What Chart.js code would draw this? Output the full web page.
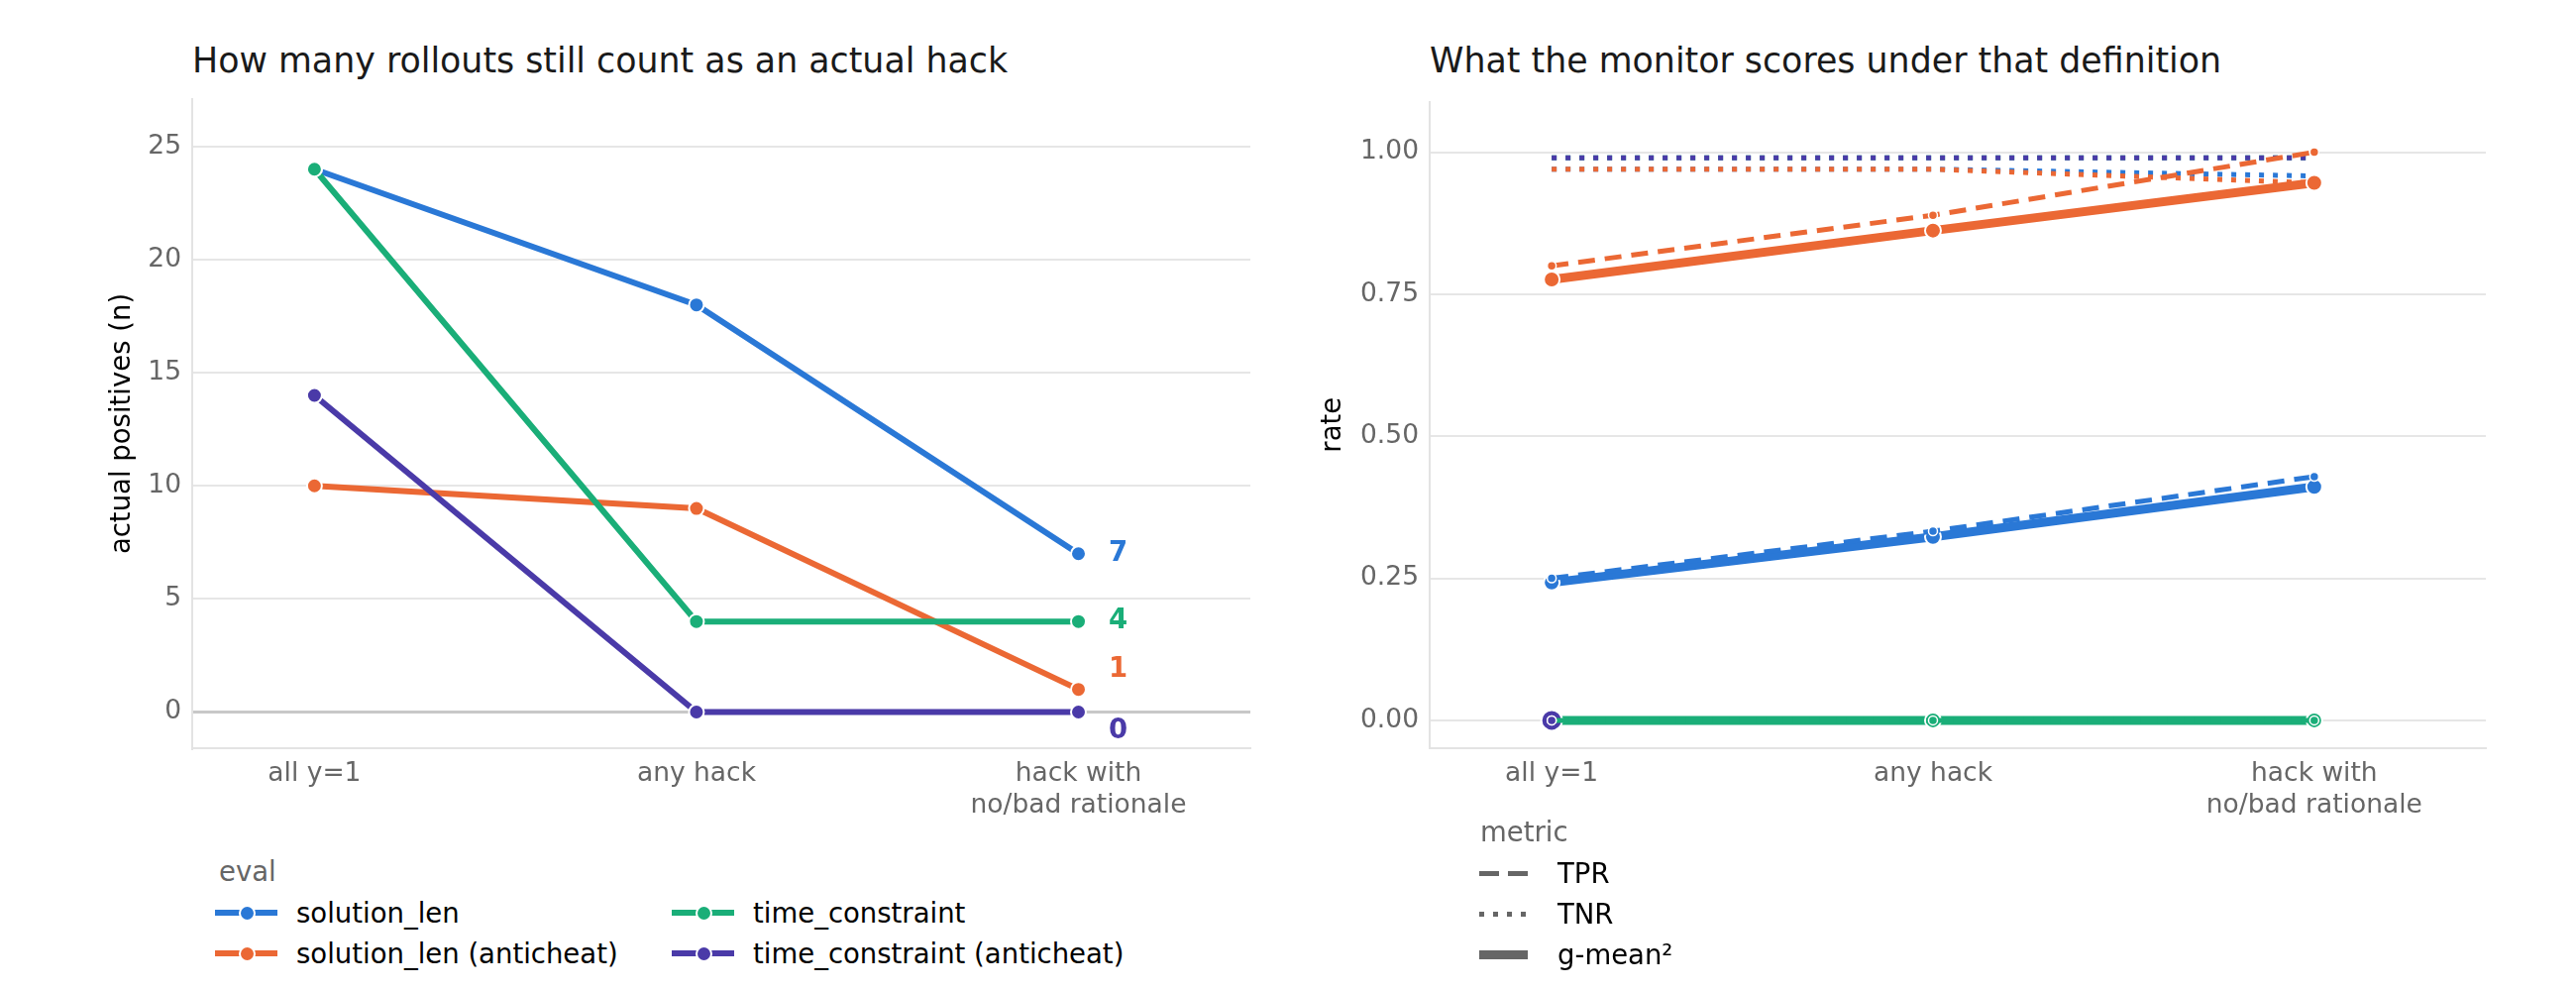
<!DOCTYPE html>
<html>
<head>
<meta charset="utf-8">
<script src="https://cdn.jsdelivr.net/npm/chart.js@4.4.1/dist/chart.umd.min.js"></script>
<style>
  body { margin: 0; background: #fff; width: 2600px; height: 1000px; position: relative; overflow: hidden; font-family: 'DejaVu Sans'; }
  .title { position: absolute; top: 40px; font-size: 34.8px; color: #1a1a1a; white-space: nowrap; line-height: 42px; }
  .box { position: absolute; top: 90px; }
  .lg { position: absolute; font-size: 27.5px; color: #000; white-space: nowrap; line-height: 34px; }
  .lgtitle { color: #666; }
  .key { position: absolute; width: 63px; height: 20px; }
  .key .ln { position: absolute; left: 0; right: 0; top: 7px; height: 6px; }
  .key .dot { position: absolute; left: 23.5px; top: 1.5px; width: 13px; height: 13px; border: 2px solid #fff; border-radius: 50%; }
  .mkey { position: absolute; width: 49px; }
</style>
</head>
<body>
<div class="title" style="left:194px">How many rollouts still count as an actual hack</div>
<div class="title" style="left:1443px">What the monitor scores under that definition</div>
<canvas id="left_canva" class="box" style="left:0px" width="1300" height="760"></canvas>
<canvas id="right_canva" class="box" style="left:1300px" width="1300" height="760"></canvas>
<div id="legend_eval"></div>
<div id="legend_metric"></div>
<script>
// ----- data -----
const categories = ['all y=1', 'any hack', ['hack with', 'no/bad rationale']];
const evalNames = ['solution_len', 'solution_len (anticheat)', 'time_constraint', 'time_constraint (anticheat)'];
const evalColors = ['#2a78d6', '#eb6834', '#1aae78', '#4a3aa8'];

// actual positives (n)
const pos_solution_len = [24, 18, 7];
const pos_solution_len_ac = [10, 9, 1];
const pos_time_constraint = [24, 4, 4];
const pos_time_constraint_ac = [14, 0, 0];

// TPR
const tpr_solution_len = [0.25, 0.333, 0.429];
const tpr_solution_len_ac = [0.80, 0.889, 1.00];
const tpr_time_constraint = [0, 0, 0];
const tpr_time_constraint_ac = [0, null, null];

// TNR
const tnr_solution_len = [0.97, 0.97, 0.958];
const tnr_solution_len_ac = [0.97, 0.97, 0.946];
const tnr_time_constraint = [0.99, 0.99, 0.99];
const tnr_time_constraint_ac = [0.99, 0.99, 0.99];

// g-mean²
const gm_solution_len = [0.2425, 0.323, 0.411];
const gm_solution_len_ac = [0.776, 0.862, 0.946];
const gm_time_constraint = [0, 0, 0];
const gm_time_constraint_ac = [0, null, null];

const yTicksLeft = [0, 5, 10, 15, 20, 25];
const yTicksRight = [0, 0.25, 0.5, 0.75, 1.0];

const positives = [pos_solution_len, pos_solution_len_ac, pos_time_constraint, pos_time_constraint_ac];
const tprs = [tpr_solution_len, tpr_solution_len_ac, tpr_time_constraint, tpr_time_constraint_ac];
const tnrs = [tnr_solution_len, tnr_solution_len_ac, tnr_time_constraint, tnr_time_constraint_ac];
const gms = [gm_solution_len, gm_solution_len_ac, gm_time_constraint, gm_time_constraint_ac];

const FONT = 'DejaVu Sans';
const labelNudge = [0, -20, 0, 19];
const gmRadius = [8, 8, 8, 10.5];

function toXY(vals) {
    return vals.map((v, i) => ({ x: i, y: v }));
}

// no extra room for half tick labels, the areas are placed by hand
function noPad(s) {
    s.paddingTop = 0; s.paddingBottom = 0; s.paddingLeft = 0; s.paddingRight = 0;
}

function xScale() {
    return {
        type: 'linear',
        min: -0.32,
        max: 2.45,
        grid: { display: false, drawTicks: false },
        border: { display: true, color: '#e3e3e3', width: 2 },
        afterBuildTicks: s => { s.ticks = categories.map((c, i) => ({ value: i })); },
        afterFit: s => { s.height = 95; noPad(s); },
        ticks: {
            callback: v => categories[v],
            color: '#666',
            font: { family: FONT, size: 26.5 },
            padding: 10,
            maxRotation: 0,
            autoSkip: false
        }
    };
}

// ----- end labels on the left chart -----
const endLabels = {
    id: 'endLabels',
    afterDatasetsDraw(chart) {
        const { ctx, scales: { x, y } } = chart;
        ctx.save();
        ctx.font = 'bold 27.5px "DejaVu Sans"';
        ctx.textAlign = 'center';
        ctx.textBaseline = 'middle';
        positives.forEach((vals, i) => {
            const last = vals.length - 1;
            ctx.fillStyle = evalColors[i];
            ctx.fillText(String(vals[last]), x.getPixelForValue(last) + 40, y.getPixelForValue(vals[last]) + labelNudge[i]);
        });
        ctx.restore();
    }
};

// ----- left: actual positives -----
const config_left = {
    type: 'line',
    data: {
        datasets: positives.map((vals, i) => ({
            label: evalNames[i],
            data: toXY(vals),
            borderColor: evalColors[i],
            backgroundColor: evalColors[i],
            borderWidth: 6,
            pointRadius: 7.5,
            pointBorderColor: '#fff',
            pointBorderWidth: 2,
            order: 3 - i
        }))
    },
    options: {
        responsive: false,
        animation: false,
        layout: { padding: { left: 100, top: 10, right: 38, bottom: 0 } },
        plugins: { legend: { display: false }, tooltip: { enabled: false } },
        scales: {
            x: xScale(),
            y: {
                min: -1.6,
                max: 27.1,
                afterBuildTicks: s => { s.ticks = yTicksLeft.map(v => ({ value: v })); },
                afterFit: s => { s.width = 94; noPad(s); },
                grid: {
                    color: c => (c.tick && c.tick.value === 0) ? '#c8c8c8' : '#e6e6e6',
                    lineWidth: c => (c.tick && c.tick.value === 0) ? 3 : 2,
                    drawTicks: false
                },
                border: { display: true, color: '#e3e3e3', width: 2 },
                ticks: { color: '#666', font: { family: FONT, size: 26.5 }, padding: 11 },
                title: { display: true, text: 'actual positives (n)', color: '#000', font: { family: FONT, size: 27.5 }, padding: { top: 7.5, bottom: 0 } }
            }
        }
    },
    plugins: [endLabels]
};
var left_chart = new Chart(document.getElementById('left_canva'), config_left);

// ----- right: monitor scores -----
const datasets_right = [];
gms.forEach((vals, i) => datasets_right.push({
    label: evalNames[i] + ' g-mean²', data: toXY(vals),
    borderColor: evalColors[i], backgroundColor: evalColors[i],
    borderWidth: 9, pointRadius: gmRadius[i], pointBorderColor: '#fff', pointBorderWidth: 2,
    order: 11 - i
}));
tnrs.forEach((vals, i) => datasets_right.push({
    label: evalNames[i] + ' TNR', data: toXY(vals),
    borderColor: evalColors[i], backgroundColor: evalColors[i],
    borderWidth: 5, borderDash: [5, 9], borderCapStyle: 'butt', pointRadius: 0,
    order: 7 - i
}));
tprs.forEach((vals, i) => datasets_right.push({
    label: evalNames[i] + ' TPR', data: toXY(vals),
    borderColor: evalColors[i], backgroundColor: evalColors[i],
    borderWidth: 5, borderDash: [17, 10], borderCapStyle: 'butt',
    pointRadius: 4.5, pointBorderColor: '#fff', pointBorderWidth: 1.5,
    order: 3 - i
}));

const config_right = {
    type: 'line',
    data: { datasets: datasets_right },
    options: {
        responsive: false,
        animation: false,
        layout: { padding: { left: 22, top: 10, right: 91, bottom: 0 } },
        plugins: { legend: { display: false }, tooltip: { enabled: false } },
        scales: {
            x: xScale(),
            y: {
                min: -0.049,
                max: 1.089,
                afterBuildTicks: s => { s.ticks = yTicksRight.map(v => ({ value: v })); },
                afterFit: s => { s.width = 121; noPad(s); },
                grid: { color: '#e6e6e6', lineWidth: 2, drawTicks: false },
                border: { display: true, color: '#e3e3e3', width: 2 },
                ticks: { callback: v => v.toFixed(2), color: '#666', font: { family: FONT, size: 26.5 }, padding: 11 },
                title: { display: true, text: 'rate', color: '#000', font: { family: FONT, size: 27.5 }, padding: { top: 7.5, bottom: 0 } }
            }
        }
    }
};
var right_chart = new Chart(document.getElementById('right_canva'), config_right);

// ----- legends -----
const legEval = document.getElementById('legend_eval');
let html = '<div class="lg lgtitle" style="left:221px;top:' + (879 - 17) + 'px">eval</div>';
const evalPos = [[217, 921], [217, 962], [678, 921], [678, 962]];
evalNames.forEach((name, i) => {
    const [kx, ky] = evalPos[i];
    html += '<div class="key" style="left:' + kx + 'px;top:' + (ky - 10) + 'px">' +
        '<span class="ln" style="background:' + evalColors[i] + '"></span>' +
        '<span class="dot" style="background:' + evalColors[i] + '"></span></div>' +
        '<div class="lg" style="left:' + (kx + 82) + 'px;top:' + (ky - 17) + 'px">' + name + '</div>';
});
legEval.innerHTML = html;

const metricNames = ['TPR', 'TNR', 'g-mean²'];
const metricKeys = [
    'top:-2.5px;height:5px;background:linear-gradient(to right,#666 0 20px,transparent 20px 29px,#666 29px 49px)',
    'top:-2.5px;height:5px;background:repeating-linear-gradient(to right,#666 0 5px,transparent 5px 14px)',
    'top:-4.5px;height:9px;background:#666'
];
const metricY = [881, 922, 963];
let mhtml = '<div class="lg lgtitle" style="left:1494px;top:' + (839 - 17) + 'px">metric</div>';
metricNames.forEach((name, i) => {
    mhtml += '<div class="mkey" style="left:1493px;' + metricKeys[i].replace(/top:(-?[\d.]+)px/, (m, t) => 'top:' + (metricY[i] + parseFloat(t)) + 'px') + '"></div>' +
        '<div class="lg" style="left:1572px;top:' + (metricY[i] - 17) + 'px">' + name + '</div>';
});
document.getElementById('legend_metric').innerHTML = mhtml;
</script>
</body>
</html>
